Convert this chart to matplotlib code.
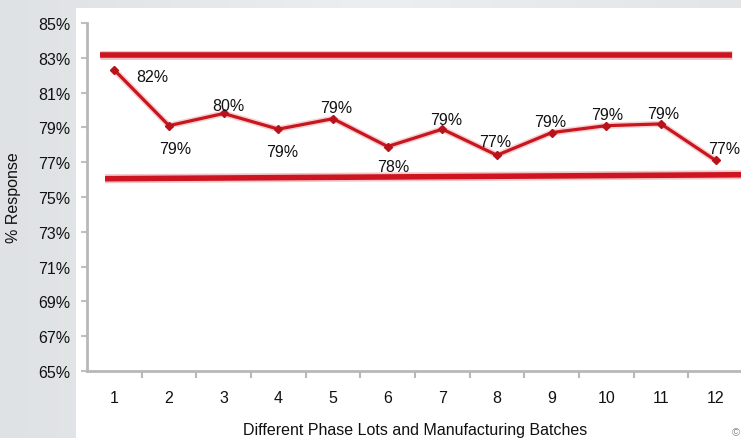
import matplotlib
matplotlib.use("Agg")
import matplotlib.pyplot as plt
from matplotlib.patches import Rectangle
import numpy as np

batches = [1, 2, 3, 4, 5, 6, 7, 8, 9, 10, 11, 12]
response = [82.3, 79.1, 79.8, 78.9, 79.5, 77.9, 78.9, 77.4, 78.7, 79.1, 79.2, 77.1]
labels = ["82%", "79%", "80%", "79%", "79%", "78%", "79%", "77%", "79%", "79%", "79%", "77%"]
upper_x = [0.74, 12.29]
upper_y = [83.15, 83.15]
lower_x = [0.83, 12.5]
lower_y = [76.05, 76.28]
yticks = [65, 67, 69, 71, 73, 75, 77, 79, 81, 83, 85]

# label offsets in pixels (dx, dy) relative to each point
offsets = [(38, -7), (6, -23), (5, 8), (4, -22), (3, 11), (6, -20),
           (4, 10), (-2, 14), (-1, 11), (1, 11), (2, 10), (9, 12)]

plt.rcParams['font.family'] = ['Liberation Sans', 'DejaVu Sans']
FS = 11.5

fig = plt.figure(figsize=(7.41, 4.39), dpi=100)
fig.patch.set_facecolor('#e2e5e7')
bg = fig.add_axes([0, 0, 1, 1], zorder=-10)
grad = np.linspace(0, 1, 256).reshape(1, -1)
bg.imshow(grad, aspect='auto', cmap=matplotlib.colors.LinearSegmentedColormap.from_list(
    'g', ['#dfe2e4', '#eceeef', '#e3e5e7']), extent=[0, 1, 0, 1])
bg.set_axis_off()
fig.patches.append(Rectangle((76 / 741, 0), 1, (439 - 9) / 439, transform=fig.transFigure,
                             facecolor='white', edgecolor='none', zorder=-5))

ax = fig.add_axes([87 / 741, 67 / 439, 656 / 741, (372 - 24) / 439])
ax.set_facecolor('none')

red = '#d2171f'
for lx, ly in [(upper_x, upper_y), (lower_x, lower_y)]:
    ax.plot(lx, ly, color=red, lw=6.5, solid_capstyle='butt', alpha=0.25)
    ax.plot(lx, ly, color='#cc1520', lw=4, solid_capstyle='butt')
ax.plot(batches, response, color=red, lw=4.5, alpha=0.2, clip_on=False)
ax.plot(batches, response, color='#c8161e', lw=2.3, marker='D', markersize=4.5,
        markerfacecolor='#b8121a', markeredgecolor='#b8121a', clip_on=False)

for x, y, lab, (dx, dy) in zip(batches, response, labels, offsets):
    ax.annotate(lab, (x, y), xytext=(dx, dy), textcoords='offset pixels',
                ha='center', va='center', fontsize=FS, color='#111111',
                annotation_clip=False)

ax.set_xlim(0.5, 12.5)
ax.set_ylim(65, 85)
ax.set_yticks(yticks)
ax.set_yticklabels([f"{v}%" for v in yticks])
ax.set_xticks(batches)
ax.set_xticklabels([str(b) for b in batches])
ax.set_xticks(np.arange(1.5, 12.5, 1), minor=True)
ax.tick_params(axis='x', which='major', length=0, pad=14, labelsize=FS, colors='#111111')
ax.tick_params(axis='x', which='minor', length=5, width=1.5, color='#b8b8b8')
ax.tick_params(axis='y', length=4, width=1.5, color='#c0c0c0', labelsize=FS,
               labelcolor='#111111', pad=8)

for s in ['top', 'right']:
    ax.spines[s].set_visible(False)
for s in ['left', 'bottom']:
    ax.spines[s].set_color('#b8b8b8')
    ax.spines[s].set_linewidth(2)

ax.set_xlabel("Different Phase Lots and Manufacturing Batches", fontsize=FS,
              color='#111111', labelpad=12)
ax.set_ylabel("% Response", fontsize=FS, color='#111111', labelpad=12)

fig.text(0.999, 0.003, "©", fontsize=8, color='#888888', ha='right', va='bottom')

fig.savefig("out.png", dpi=100)
